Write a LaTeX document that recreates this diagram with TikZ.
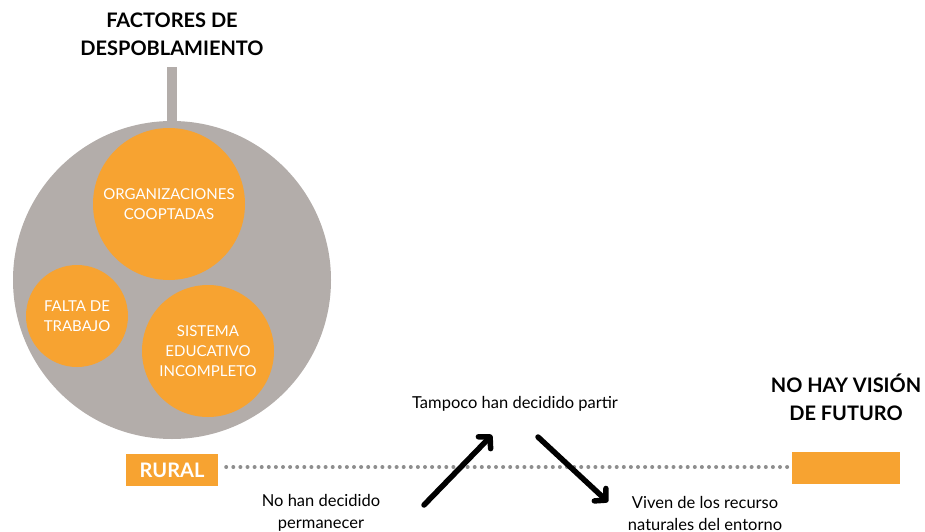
\documentclass[tikz,border=0pt]{standalone}
\usepackage{fontspec}
\setmainfont{Lato}
\usetikzlibrary{arrows.meta}
\definecolor{og}{HTML}{F7A331}
\definecolor{gr}{HTML}{B3ADAA}
\definecolor{dotg}{HTML}{8E8E8E}
\tikzset{
  factor/.style={circle, fill=og, text=white, align=center, inner sep=0pt, font=\fontsize{15}{20}\selectfont},
  title/.style={align=center, font=\bfseries\fontsize{20}{28}\selectfont},
  label/.style={align=center, font=\fontsize{16.5}{22}\selectfont},
  arr/.style={line width=5.5pt, line cap=round, -{Straight Barb[length=8pt,width=17pt,line join=round,line cap=round]}},
}
\begin{document}
\begin{tikzpicture}[x=1pt,y=-1pt]
\useasboundingbox (0,0) rectangle (925,532);
% stem
\fill[gr] (167,67) rectangle (177,130);
\node[circle, fill=gr, minimum size=318pt, inner sep=0pt] (big) at (172,280) {};
\node[factor, minimum size=152pt] (org) at (169,204) {ORGANIZACIONES\\COOPTADAS};
\node[factor, minimum size=102pt] (falta) at (77,316) {FALTA DE\\TRABAJO};
\node[factor, minimum size=132pt] (sis) at (208,351) {SISTEMA\\EDUCATIVO\\INCOMPLETO};
\node[title] (t) at (172,34) {FACTORES DE\\DESPOBLAMIENTO};
% rural line
\node[fill=og, text=white, minimum width=92pt, minimum height=32pt, inner sep=0pt, font=\bfseries\fontsize{20}{24}\selectfont] (rural) at (172,470) {RURAL};
\node[fill=og, minimum width=108pt, minimum height=32pt, inner sep=0pt] (fut) at (846,468) {};
\draw[dotg, line width=4pt, line cap=round, dash pattern=on 0pt off 7.1pt] ([xshift=8pt]rural.east |- 0,467) -- ([xshift=-3pt]fut.west |- 0,467);
\node[title] (vis) at (846,397) {NO HAY VISIÓN\\DE FUTURO};
\node[label] (tamp) at (515,404) {Tampoco han decidido partir};
\node[label] (perm) at (321,513) {No han decidido\\permanecer};
\node[label] (viv) at (705,513) {Viven de los recurso\\naturales del entorno};
\coordinate (a1s) at (424,505);
\coordinate (a1e) at (492,435);
\coordinate (a2s) at (538,437);
\coordinate (a2e) at (608,502);
\draw[arr] (a1s) -- (a1e);
\draw[arr] (a2s) -- (a2e);
\end{tikzpicture}
\end{document}
